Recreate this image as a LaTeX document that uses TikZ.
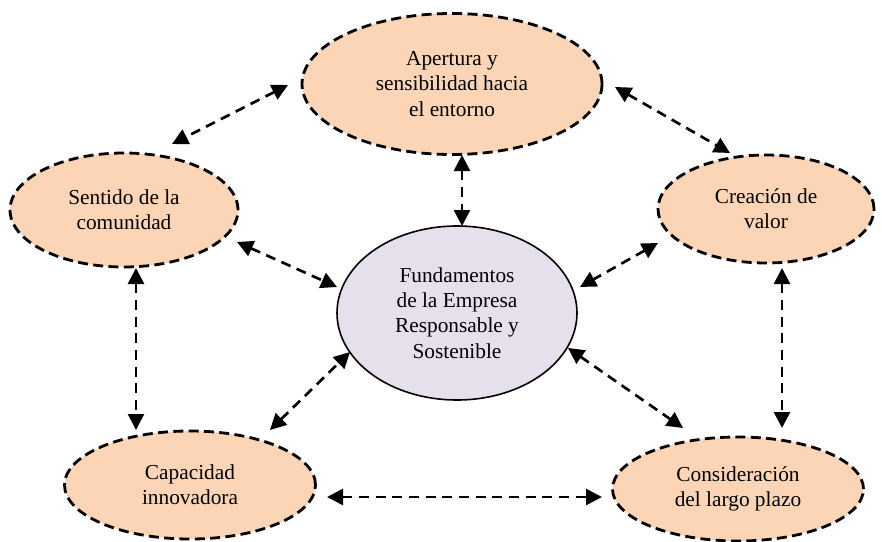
\documentclass[tikz,border=0pt]{standalone}
\usepackage{fontspec}
\setmainfont{Liberation Serif}
\usetikzlibrary{shapes.geometric,arrows.meta}
\definecolor{peach}{HTML}{FBD5B5}
\definecolor{lavender}{HTML}{E5E0EC}
\begin{document}
\begin{tikzpicture}[x=0.75pt,y=-0.75pt,
  every node/.style={font=\fontsize{16}{19}\selectfont, align=center, inner sep=0pt},
  pillar/.style={ellipse, draw=black, fill=peach, line width=2.1pt,
    dash pattern=on 7.5pt off 4pt},
  core/.style={ellipse, draw=black, fill=lavender, line width=1.2pt},
  link/.style={line width=2pt, dash pattern=on 7.5pt off 5pt,
    {Triangle[length=12pt,width=12pt]}-{Triangle[length=12pt,width=12pt]}}]
  \useasboundingbox (0,0) rectangle (882,542);

  % ellipses
  \node[core, minimum width=240pt*0.75, minimum height=174pt*0.75] (fund) at (457,313)
    {Fundamentos\\de la Empresa\\Responsable y\\Sostenible};
  \node[pillar, minimum width=300pt*0.75, minimum height=141pt*0.75] (aper) at (452,84)
    {Apertura y\\sensibilidad hacia\\el entorno};
  \node[pillar, minimum width=228pt*0.75, minimum height=114pt*0.75] (sent) at (124,210)
    {Sentido de la\\comunidad};
  \node[pillar, minimum width=216pt*0.75, minimum height=108pt*0.75] (crea) at (766,209)
    {Creación de\\valor};
  \node[pillar, minimum width=251pt*0.75, minimum height=108pt*0.75] (capa) at (190,485)
    {Capacidad\\innovadora};
  \node[pillar, minimum width=251pt*0.75, minimum height=104pt*0.75] (cons) at (738,489)
    {Consideración\\del largo plazo};

  % connector end points
  \coordinate (aperL) at (288,85);   \coordinate (sentT) at (172,144);
  \coordinate (aperB) at (462,155);  \coordinate (fundT) at (462,226);
  \coordinate (aperR) at (615,87);   \coordinate (creaT) at (730,153);
  \coordinate (sentR) at (237,242);  \coordinate (fundL) at (337,287);
  \coordinate (creaL) at (658,243);  \coordinate (fundR) at (580,287);
  \coordinate (sentB) at (136,268);  \coordinate (capaT) at (136,430);
  \coordinate (capaR) at (270,430);  \coordinate (fundBL) at (350,352);
  \coordinate (fundBR) at (568,348); \coordinate (consT) at (683,428);
  \coordinate (creaB) at (782,268);  \coordinate (consR) at (782,428);
  \coordinate (capaE) at (327,497);  \coordinate (consL) at (602,497);

  % connectors
  \draw[link] (aperL) -- (sentT);
  \draw[link] (aperB) -- (fundT);
  \draw[link] (aperR) -- (creaT);
  \draw[link] (sentR) -- (fundL);
  \draw[link] (creaL) -- (fundR);
  \draw[link] (sentB) -- (capaT);
  \draw[link] (capaR) -- (fundBL);
  \draw[link] (fundBR) -- (consT);
  \draw[link] (creaB) -- (consR);
  \draw[link] (capaE) -- (consL);
\end{tikzpicture}
\end{document}
